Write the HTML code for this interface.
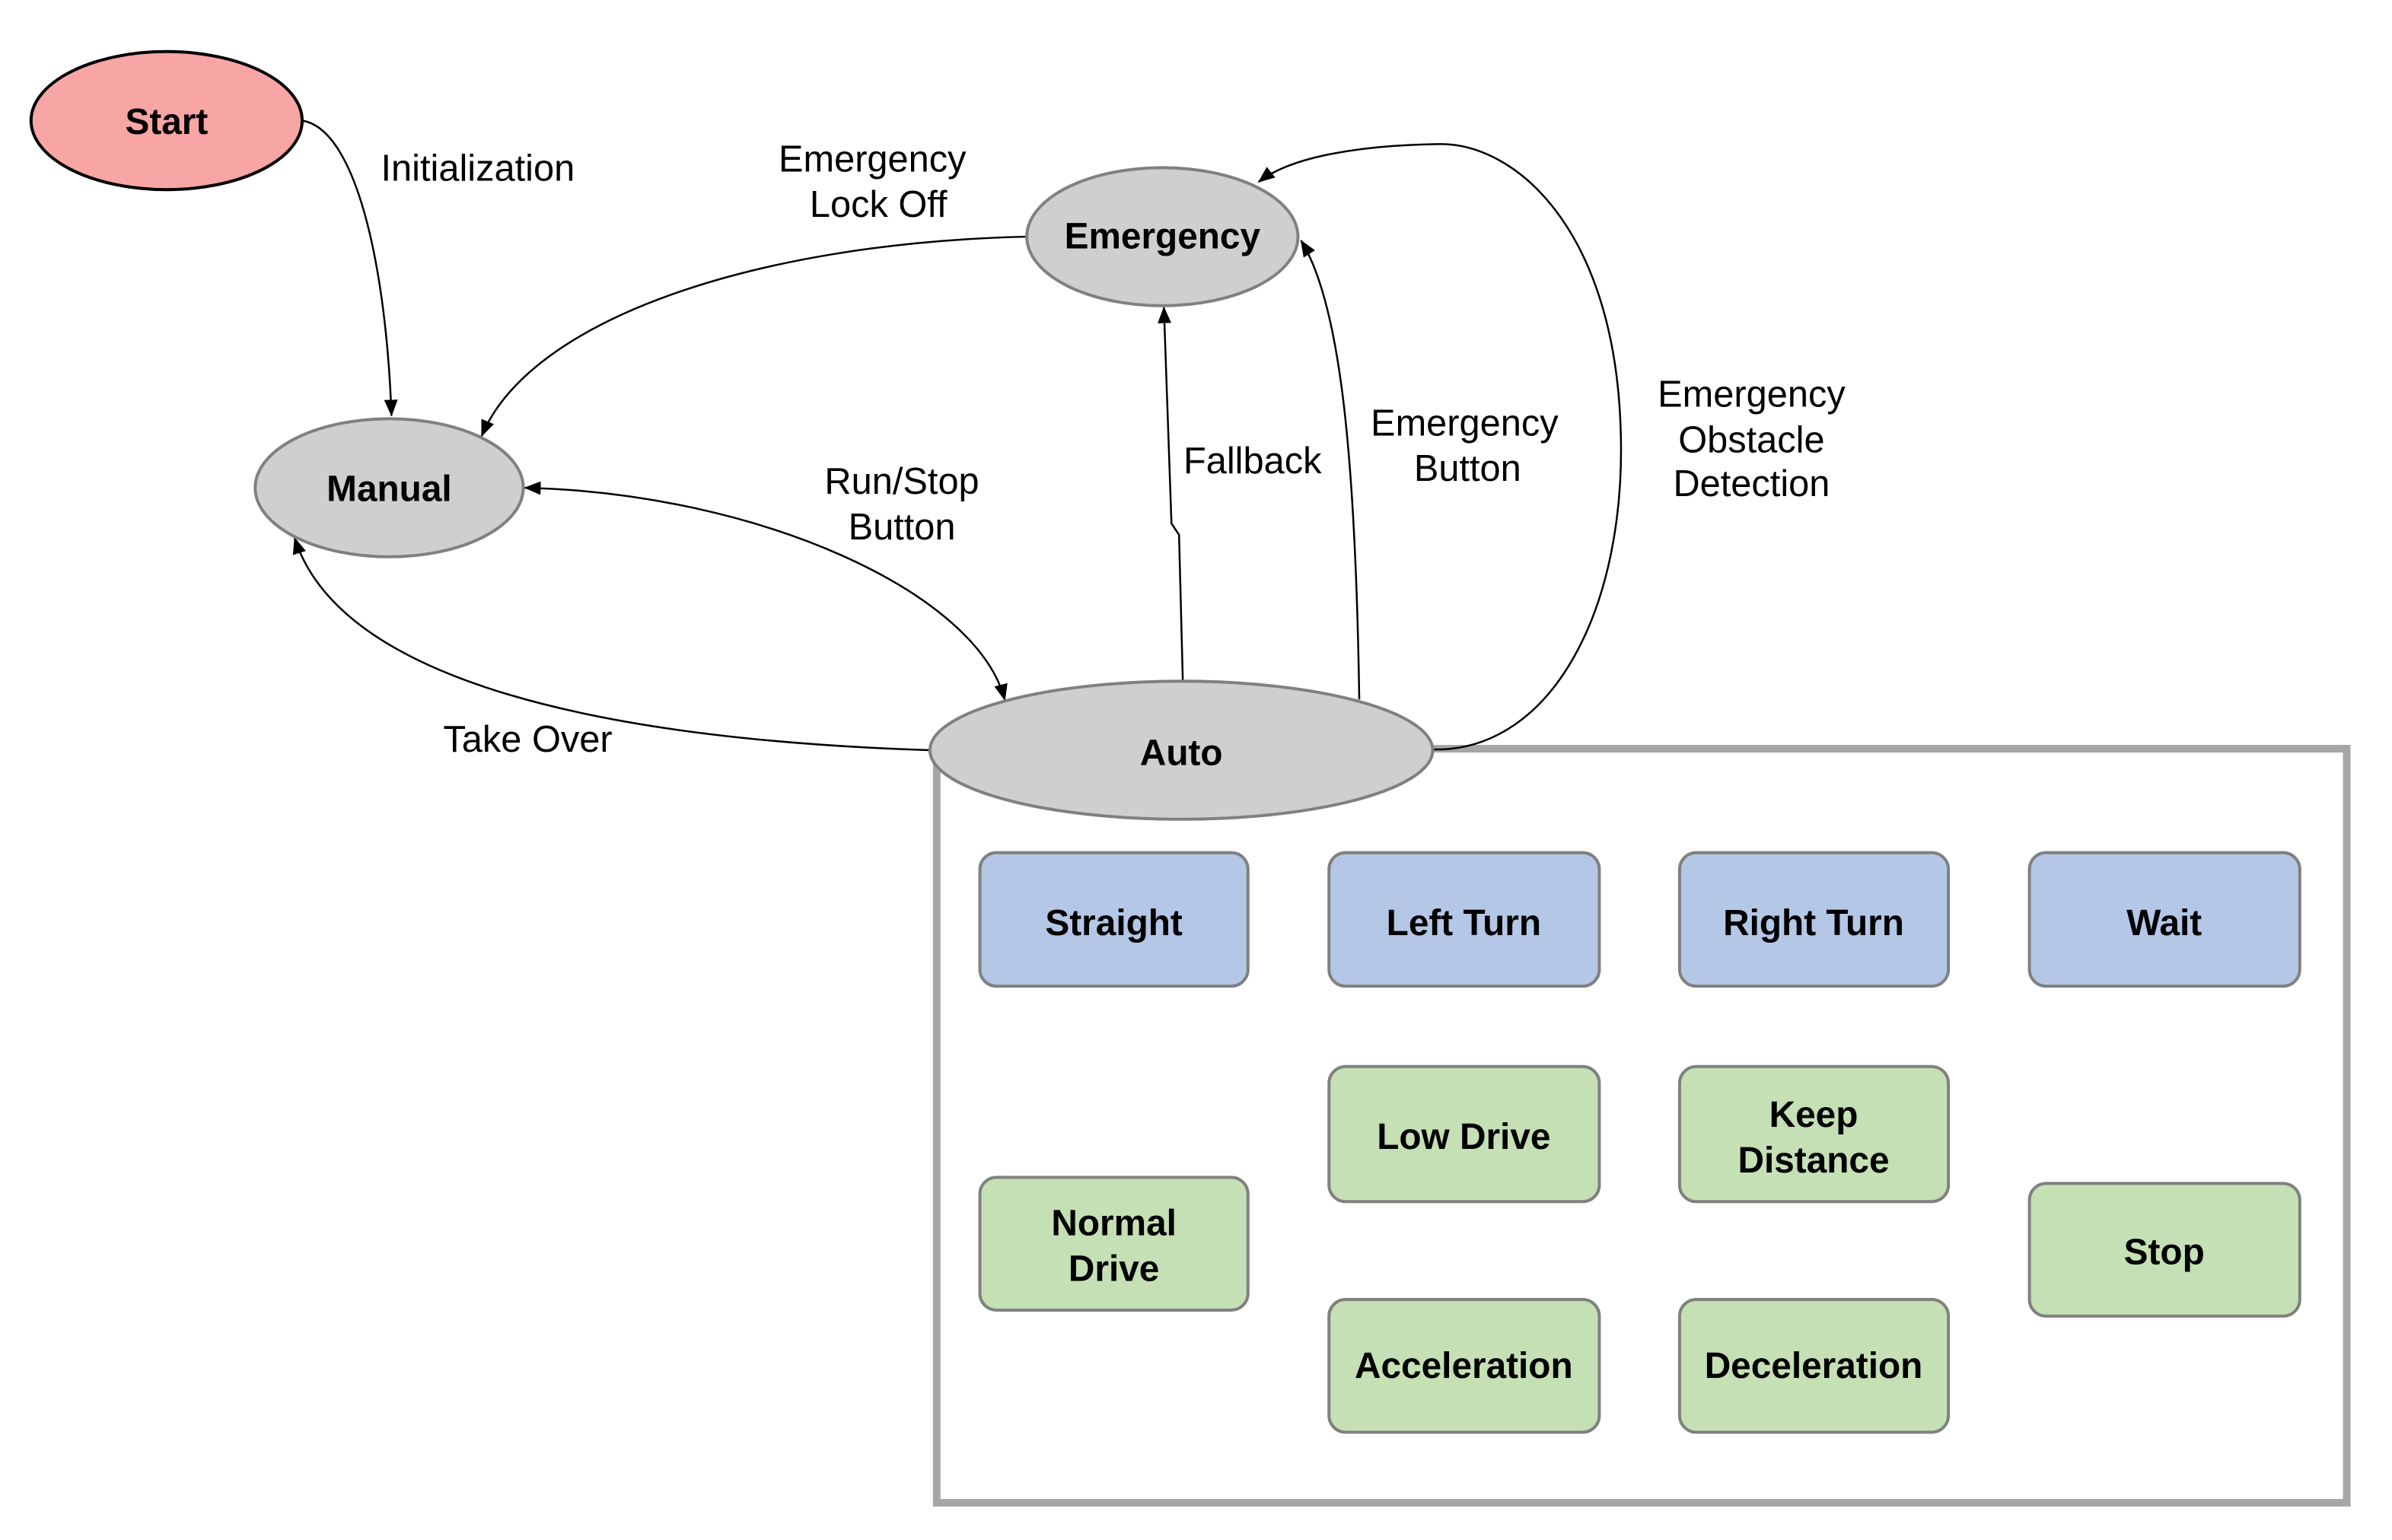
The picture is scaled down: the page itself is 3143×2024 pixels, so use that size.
<!DOCTYPE html>
<html><head><meta charset="utf-8"><style>
html,body{margin:0;padding:0;background:#fff;}
svg{display:block;}
text{font-family:"Liberation Sans",Arial,sans-serif;}
.b{font-weight:bold;font-size:48px;text-anchor:middle;dominant-baseline:central;fill:#000;}
.l{font-size:49px;text-anchor:middle;dominant-baseline:central;fill:#000;}
</style></head><body>
<svg width="3143" height="2024" viewBox="0 0 3143 2024" xmlns="http://www.w3.org/2000/svg">
<defs>
<marker id="a" markerWidth="22" markerHeight="18" refX="21" refY="9" orient="auto" markerUnits="userSpaceOnUse" viewBox="0 0 22 18">
<path d="M0,0 L22,9 L0,18 z" fill="#000" stroke="none"/></marker>
<marker id="as" markerWidth="22" markerHeight="18" refX="1" refY="9" orient="auto" markerUnits="userSpaceOnUse" viewBox="0 0 22 18">
<path d="M22,0 L0,9 L22,18 z" fill="#000" stroke="none"/></marker>
</defs>
<g transform="scale(0.995,0.997)">
<rect x="1237" y="987" width="1862" height="994" fill="none" stroke="#a6a6a6" stroke-width="10"/>
<g fill="none" stroke="#000" stroke-width="2.5">
<path d="M399,159 C470,170 510,350 517,548" marker-end="url(#a)"/>
<path d="M1356,312 C1000,320 700,420 636,575" marker-end="url(#a)"/>
<path d="M693,643 C1000,650 1290,780 1327,923" marker-start="url(#as)" marker-end="url(#a)"/>
<path d="M1229,989 C800,975 450,900 389,709" marker-end="url(#a)"/>
<path d="M1562,898 L1557,705 L1547,690 L1537,405" marker-end="url(#a)"/>
<path d="M1795,922 C1790,600 1770,400 1718,317" marker-end="url(#a)"/>
<path d="M1894,988 C2050,990 2150,800 2140,560 C2130,300 2000,188 1900,190 C1780,192 1700,210 1662,240" marker-end="url(#a)"/>
</g>
<ellipse cx="220" cy="159" rx="179" ry="91" fill="#f8a5a5" stroke="#000" stroke-width="4"/>
<ellipse cx="1535" cy="312" rx="179" ry="91" fill="#d0cfd0" stroke="#808080" stroke-width="4"/>
<ellipse cx="514" cy="643" rx="177" ry="91" fill="#d0cfd0" stroke="#808080" stroke-width="4"/>
<ellipse cx="1560" cy="989" rx="332" ry="91" fill="#d0cfd0" stroke="#808080" stroke-width="4"/>
<text class="b" x="220" y="161">Start</text>
<text class="b" x="1535" y="312">Emergency</text>
<text class="b" x="514" y="645">Manual</text>
<text class="b" x="1560" y="993">Auto</text>
<g stroke="#808080" stroke-width="4">
<rect x="1294" y="1124" width="354" height="176" rx="22" fill="#b4c7e7"/>
<rect x="1755" y="1124" width="357" height="176" rx="22" fill="#b4c7e7"/>
<rect x="2218" y="1124" width="355" height="176" rx="22" fill="#b4c7e7"/>
<rect x="2680" y="1124" width="357" height="176" rx="22" fill="#b4c7e7"/>
<rect x="1755" y="1406" width="357" height="178" rx="22" fill="#c5e0b4"/>
<rect x="2218" y="1406" width="355" height="178" rx="22" fill="#c5e0b4"/>
<rect x="1294" y="1552" width="354" height="175" rx="22" fill="#c5e0b4"/>
<rect x="2680" y="1560" width="357" height="175" rx="22" fill="#c5e0b4"/>
<rect x="1755" y="1713" width="357" height="175" rx="22" fill="#c5e0b4"/>
<rect x="2218" y="1713" width="355" height="175" rx="22" fill="#c5e0b4"/>
</g>
<text class="b" x="1471" y="1217">Straight</text>
<text class="b" x="1933" y="1217">Left Turn</text>
<text class="b" x="2395" y="1217">Right Turn</text>
<text class="b" x="2858" y="1217">Wait</text>
<text class="b" x="1933" y="1499">Low Drive</text>
<text class="b" x="2395" y="1470">Keep</text>
<text class="b" x="2395" y="1530">Distance</text>
<text class="b" x="1471" y="1613">Normal</text>
<text class="b" x="1471" y="1673">Drive</text>
<text class="b" x="2858" y="1651">Stop</text>
<text class="b" x="1933" y="1801">Acceleration</text>
<text class="b" x="2395" y="1801">Deceleration</text>
<text class="l" x="631" y="222">Initialization</text>
<text class="l" x="1152" y="210">Emergency</text>
<text class="l" x="1160" y="270">Lock Off</text>
<text class="l" x="1191" y="635">Run/Stop</text>
<text class="l" x="1191" y="695">Button</text>
<text class="l" x="697" y="975">Take Over</text>
<text class="l" x="1654" y="608">Fallback</text>
<text class="l" x="1934" y="558">Emergency</text>
<text class="l" x="1938" y="618">Button</text>
<text class="l" x="2313" y="520">Emergency</text>
<text class="l" x="2313" y="580">Obstacle</text>
<text class="l" x="2313" y="638">Detection</text>
</g>
</svg>
</body></html>
